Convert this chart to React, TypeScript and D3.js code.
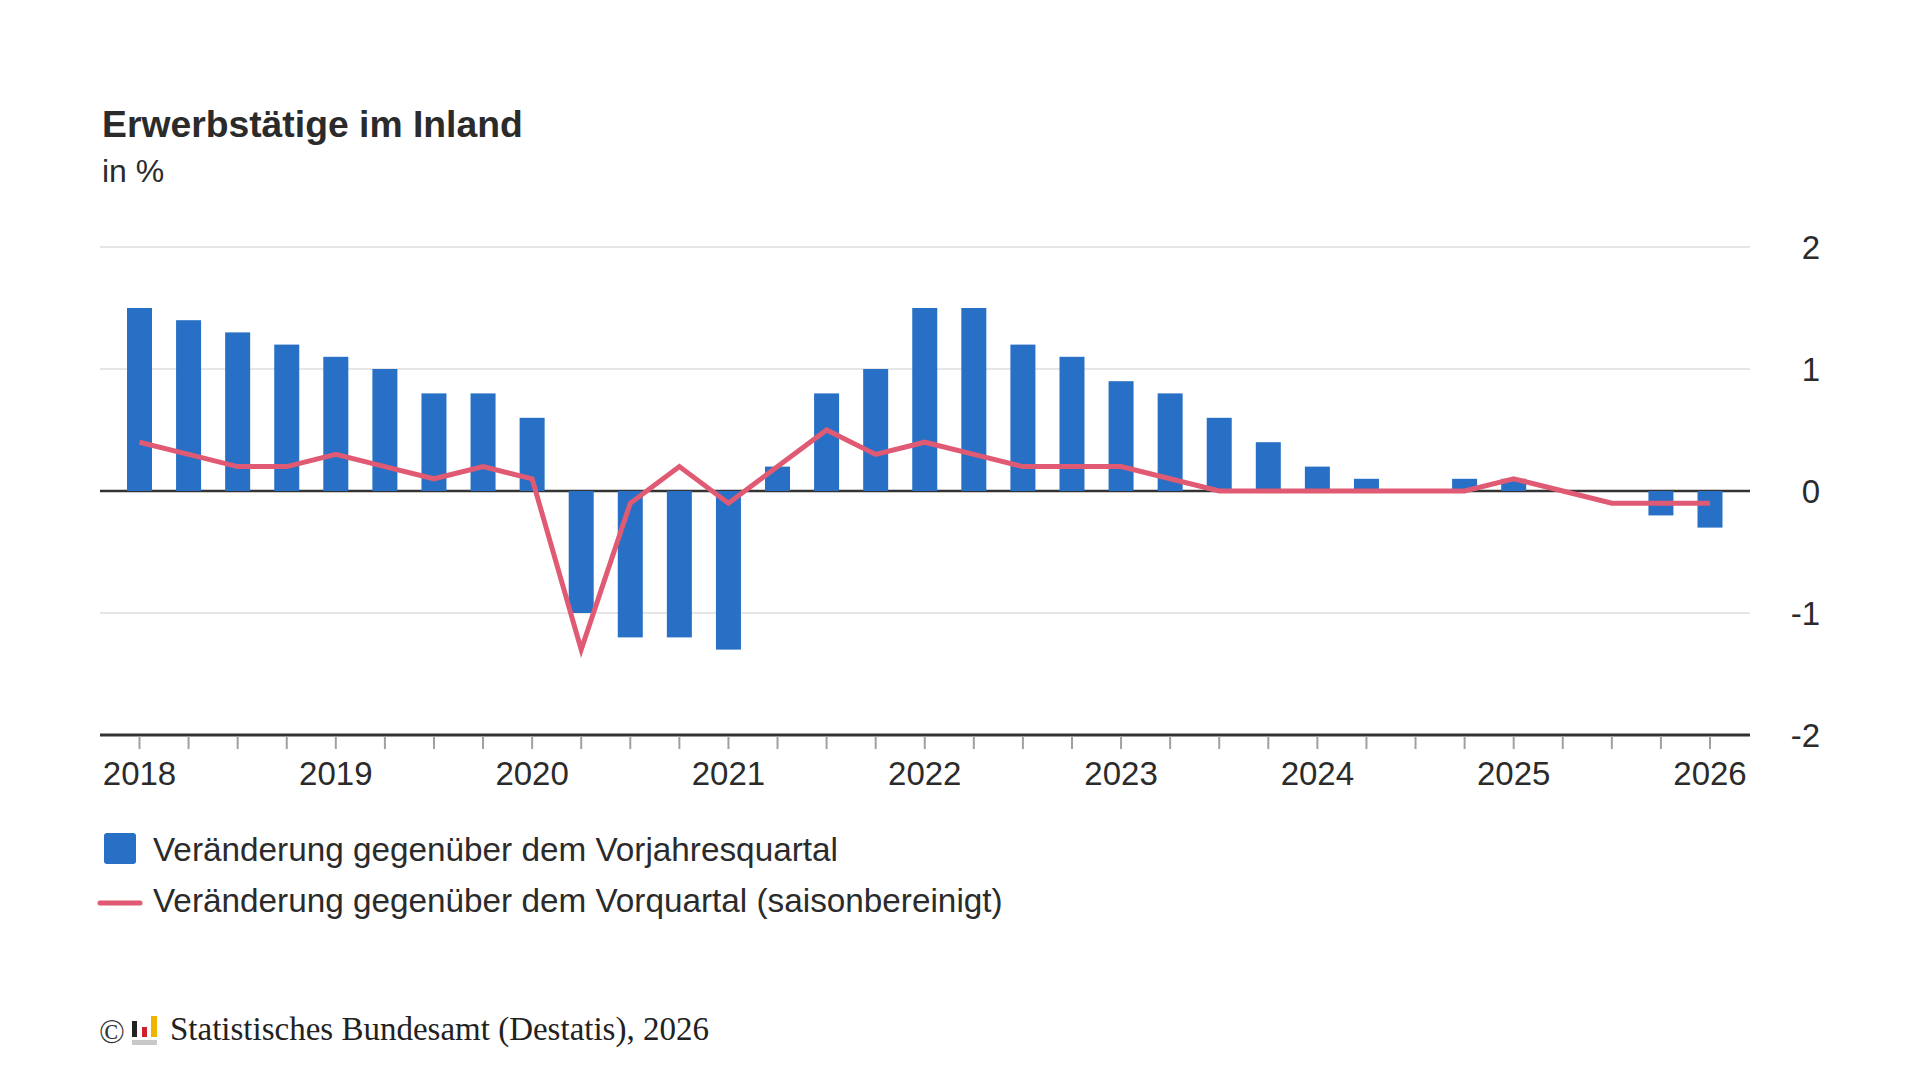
import * as d3 from "d3";

// Erwerbstätige im Inland, Veränderung in %
const years = [2018, 2019, 2020, 2021, 2022, 2023, 2024, 2025, 2026];
const quarterNames = ["Q1", "Q2", "Q3", "Q4"];
const quarters = years.flatMap((year) =>
  year === 2026 ? [`${year}-Q1`] : quarterNames.map((q) => `${year}-${q}`),
);

// Veränderung gegenüber dem Vorjahresquartal
const yoyValues = [
  1.5, 1.4, 1.3, 1.2, 1.1, 1.0, 0.8, 0.8, 0.6, -1.0, -1.2, -1.2, -1.3, 0.2, 0.8, 1.0, 1.5, 1.5, 1.2,
  1.1, 0.9, 0.8, 0.6, 0.4, 0.2, 0.1, 0, 0.1, 0.1, 0, 0, -0.2, -0.3,
];

// Veränderung gegenüber dem Vorquartal (saisonbereinigt)
const qoqValues = [
  0.4, 0.3, 0.2, 0.2, 0.3, 0.2, 0.1, 0.2, 0.1, -1.3, -0.1, 0.2, -0.1, 0.2, 0.5, 0.3, 0.4, 0.3, 0.2,
  0.2, 0.2, 0.1, 0, 0, 0, 0, 0, 0, 0.1, 0, -0.1, -0.1, -0.1,
];

const yTicks = [-2, -1, 0, 1, 2];
const legendLabels = [
  "Veränderung gegenüber dem Vorjahresquartal",
  "Veränderung gegenüber dem Vorquartal (saisonbereinigt)",
];

const BLUE = "#2770c5";
const RED = "#e05a73";
const INK = "#2b2b2b";
const SANS = "'Liberation Sans', Arial, Helvetica, sans-serif";
const SERIF = "'Liberation Serif', 'Times New Roman', serif";

export default function App() {
  const plotLeft = 100;
  const plotRight = 1750;
  const x = d3.scalePoint<string>().domain(quarters).range([139.5, 1710]);
  const y = d3.scaleLinear().domain([-2, 2]).range([735, 247]);
  const barWidth = 25;

  const line = d3
    .line<number>()
    .x((_, i) => x(quarters[i]) ?? 0)
    .y((v) => y(v));

  return (
    <svg
      width={1920}
      height={1080}
      style={{ position: "absolute", left: 0, top: 0, background: "#fff" }}
      fontFamily={SANS}
    >
      <rect width={1920} height={1080} fill="#fff" />

      <text x={102} y={137} fontSize={37.3} fontWeight="bold" fill={INK}>
        Erwerbstätige im Inland
      </text>
      <text x={102} y={182} fontSize={32} fill={INK}>
        in %
      </text>

      {/* grid */}
      {yTicks
        .filter((t) => t !== 0 && t !== -2)
        .map((t) => (
          <line
            key={t}
            x1={plotLeft}
            x2={plotRight}
            y1={y(t)}
            y2={y(t)}
            stroke="#dedede"
            strokeWidth={1.5}
          />
        ))}
      <line x1={plotLeft} x2={plotRight} y1={y(0)} y2={y(0)} stroke="#333" strokeWidth={2.5} />

      {yTicks.map((t) => (
        <text
          key={t}
          x={1820}
          y={y(t)}
          dy="0.35em"
          textAnchor="end"
          fontSize={33}
          fill={INK}
        >
          {t}
        </text>
      ))}

      {/* bars */}
      {yoyValues.map((v, i) => (
        <rect
          key={quarters[i]}
          x={(x(quarters[i]) ?? 0) - barWidth / 2}
          y={Math.min(y(v), y(0))}
          width={barWidth}
          height={Math.abs(y(v) - y(0))}
          fill={BLUE}
        />
      ))}

      <path
        d={line(qoqValues) ?? ""}
        fill="none"
        stroke={RED}
        strokeWidth={5}
        strokeLinejoin="miter"
      />

      {/* x axis */}
      <line x1={plotLeft} x2={plotRight} y1={y(-2)} y2={y(-2)} stroke="#333" strokeWidth={3} />
      {quarters.map((q) => (
        <line
          key={q}
          x1={x(q)}
          x2={x(q)}
          y1={y(-2) + 1}
          y2={y(-2) + 14}
          stroke="#a0a0a0"
          strokeWidth={2}
        />
      ))}
      {quarters
        .filter((q) => q.endsWith("Q1"))
        .map((q) => (
          <text key={q} x={x(q)} y={785} textAnchor="middle" fontSize={33} fill={INK}>
            {q.slice(0, 4)}
          </text>
        ))}

      {/* legend */}
      <rect x={104} y={833} width={32} height={31} rx={3} fill={BLUE} />
      <text x={153} y={861} fontSize={33.3} fill={INK}>
        {legendLabels[0]}
      </text>
      <line x1={100} x2={140} y1={903} y2={903} stroke={RED} strokeWidth={5} strokeLinecap="round" />
      <text x={153} y={912} fontSize={33.3} fill={INK}>
        {legendLabels[1]}
      </text>

      {/* source */}
      <text x={99} y={1043} fontSize={34} fontFamily={SERIF} fill="#333">
        ©
      </text>
      <rect x={132} y={1021} width={5} height={16} fill="#222" />
      <rect x={142} y={1027} width={5} height={10} fill="#d0202e" />
      <rect x={151} y={1016} width={6} height={21} fill="#f0b400" />
      <rect x={132} y={1040} width={25} height={5} fill="#c8c8c8" />
      <text x={170} y={1040} fontSize={33} fontFamily={SERIF} fill="#222">
        Statistisches Bundesamt (Destatis), 2026
      </text>
    </svg>
  );
}
